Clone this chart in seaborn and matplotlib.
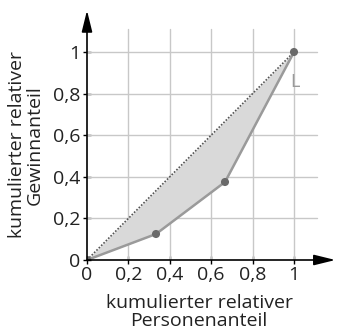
import numpy as np
import pandas as pd
import seaborn as sns
import matplotlib.pyplot as plt

# Lorenz curve data
personen = [0, 1/3, 2/3, 1]
gewinn = [0, 0.125, 0.375, 1]
ticks = [0, 0.2, 0.4, 0.6, 0.8, 1]
tick_labels = ["0", "0,2", "0,4", "0,6", "0,8", "1"]

sns.set_style("white")
plt.rcParams['font.family'] = ['Open Sans', 'DejaVu Sans']

W, H = 337, 331
fig = plt.figure(figsize=(W / 100, H / 100), dpi=100)
ax = fig.add_axes([87/W, 71/H, 248.4/W, 249.6/H])
ax.set_xlim(0, 1.2)
ax.set_ylim(0, 1.2)

# grid
gmax = 1.11
for t in ticks[1:]:
    ax.plot([t, t], [0, gmax], color="#c8c8c8", lw=1.0, zorder=1)
    ax.plot([0, gmax], [t, t], color="#c8c8c8", lw=1.0, zorder=1)

df = pd.DataFrame({"x": personen, "y": gewinn})

# area between equality line and Lorenz curve
ax.fill_between(personen, personen, gewinn, color="#d9d9d9", zorder=2, lw=0)
ax.plot([0, 1], [0, 1], color="#555555", lw=1.2, ls=(0, (1, 1)), zorder=3)
sns.lineplot(data=df, x="x", y="y", ax=ax, color="#9a9a9a", lw=1.8, zorder=4)
sns.scatterplot(data=df, x="x", y="y", ax=ax, color="#6a6a6a", s=34,
                edgecolor="none", zorder=5)
ax.text(0.98, 0.855, "L", color="#9a9a9a", fontsize=13, ha="left", va="center")

# axes with arrows
for s in ax.spines.values():
    s.set_visible(False)
for end in [(1.2, 0), (0, 1.2)]:
    ax.annotate("", xy=end, xytext=(0, 0),
                arrowprops=dict(arrowstyle="-|>,head_length=1.3,head_width=0.32",
                                color="black", lw=1.2, shrinkA=0, shrinkB=0),
                annotation_clip=False, zorder=6)

ax.set_xticks(ticks)
ax.set_xticklabels(tick_labels)
ax.set_yticks(ticks)
ax.set_yticklabels(tick_labels)
ax.tick_params(axis="both", direction="inout", length=6, width=1.0,
               color="black", labelsize=14, labelcolor="#222222")
ax.tick_params(axis="x", bottom=True, pad=1)
ax.tick_params(axis="y", left=True, pad=2)
ax.set_xlabel("")
ax.set_ylabel("")

fig.text(199/W, 1 - 312/H, "kumulierter relativer\nPersonenanteil", fontsize=14,
         color="#222222", ha="center", va="center", linespacing=0.95)
fig.text(26/W, 1 - 145/H, "kumulierter relativer\nGewinnanteil", fontsize=14,
         color="#222222", ha="center", va="center", rotation=90,
         linespacing=0.95, multialignment="center")

fig.savefig("out.png", dpi=100)
